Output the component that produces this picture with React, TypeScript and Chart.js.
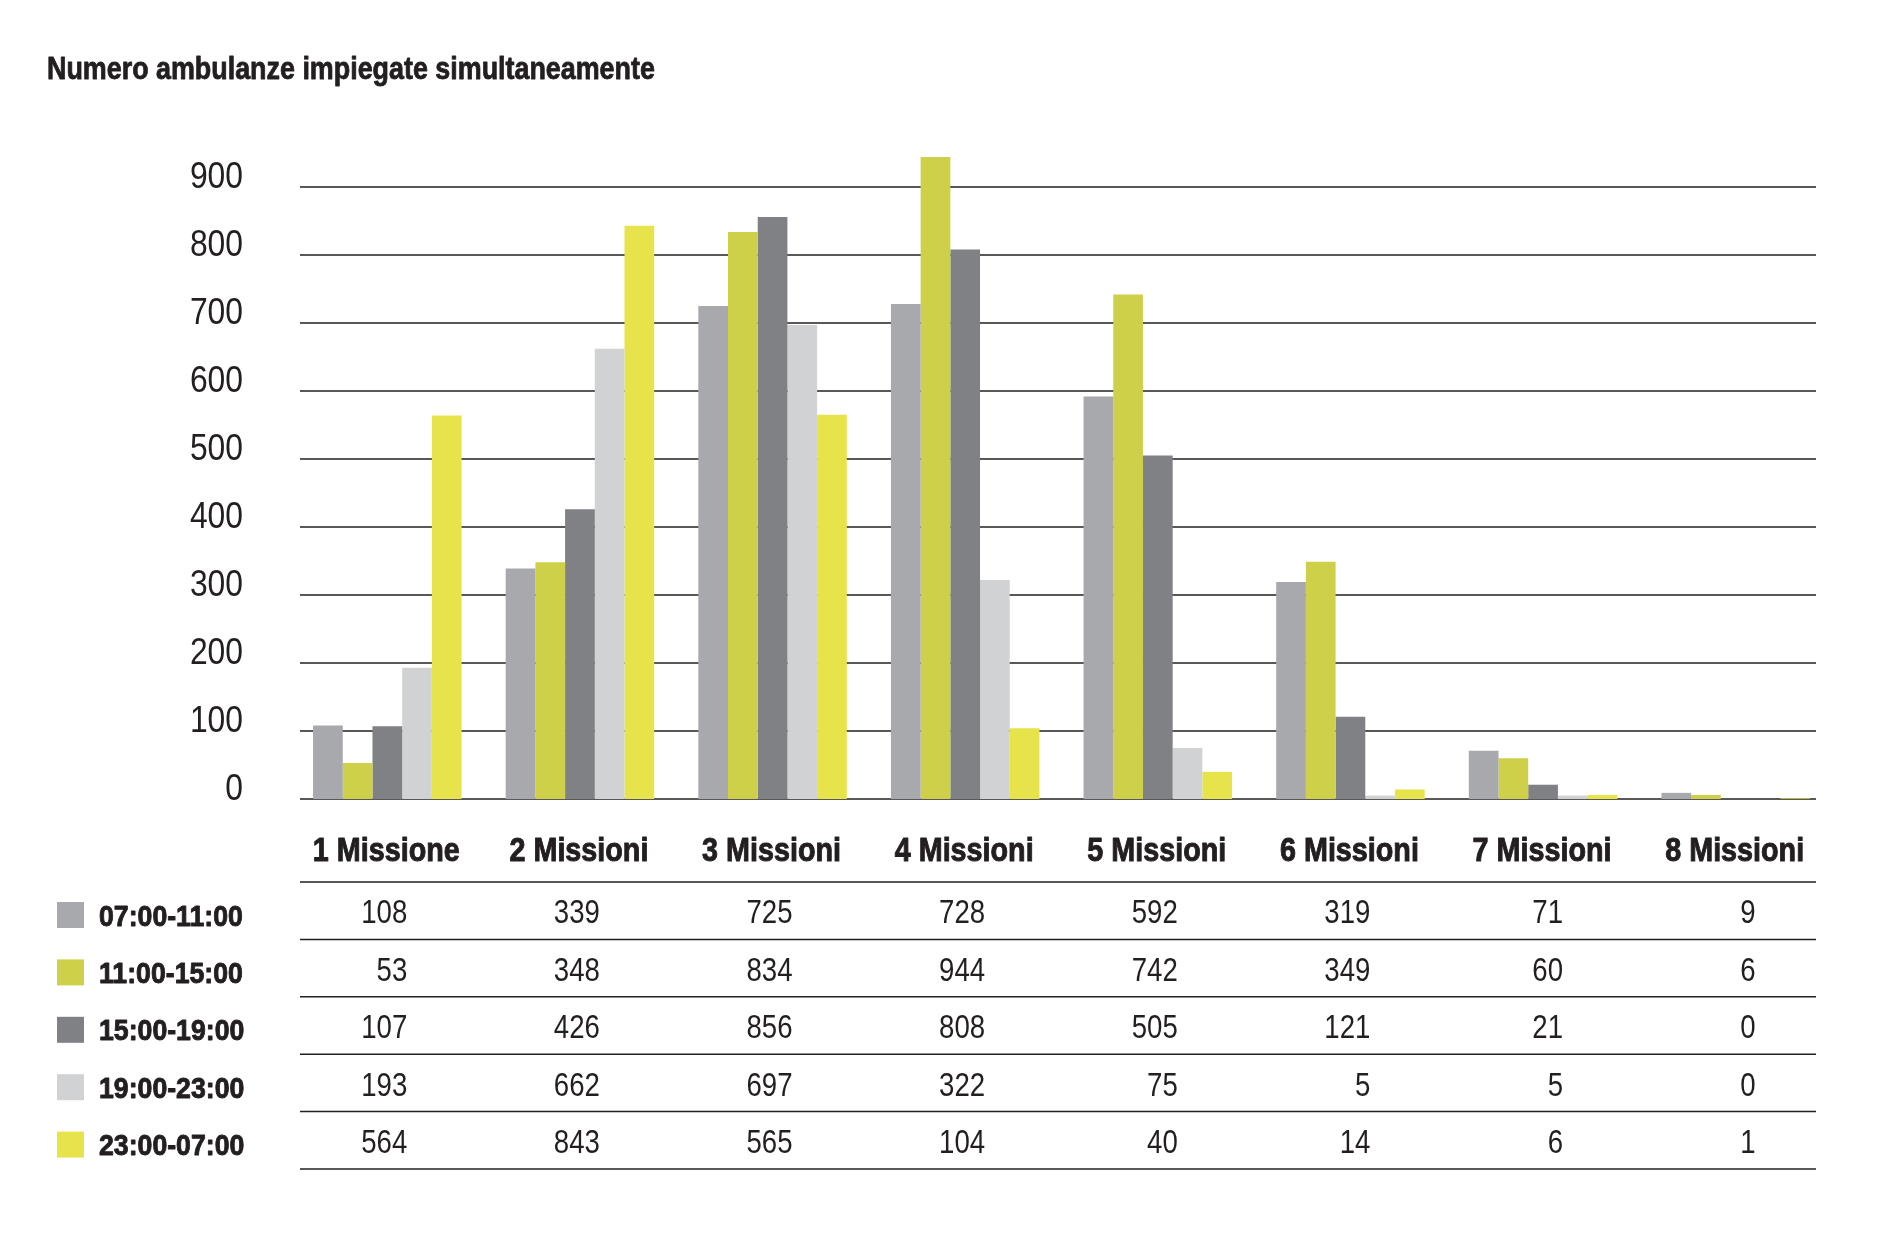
import React, { useEffect, useRef } from 'react';
import { Chart, registerables } from 'chart.js';

Chart.register(...registerables);

const TITLE = 'Numero ambulanze impiegate simultaneamente';
const categories = ['1 Missione', '2 Missioni', '3 Missioni', '4 Missioni', '5 Missioni', '6 Missioni', '7 Missioni', '8 Missioni'];
const seriesLabels = ['07:00-11:00', '11:00-15:00', '15:00-19:00', '19:00-23:00', '23:00-07:00'];
const s0711 = [108, 339, 725, 728, 592, 319, 71, 9];
const s1115 = [53, 348, 834, 944, 742, 349, 60, 6];
const s1519 = [107, 426, 856, 808, 505, 121, 21, 0];
const s1923 = [193, 662, 697, 322, 75, 5, 5, 0];
const s2307 = [564, 843, 565, 104, 40, 14, 6, 1];
const seriesValues = [s0711, s1115, s1519, s1923, s2307];
const seriesColors = ['#a8a9ac', '#cfd04a', '#808184', '#d1d2d4', '#e7e34b'];
const yTickValues = [0, 100, 200, 300, 400, 500, 600, 700, 800, 900];

const INK = '#231f20';
const FF = '"Liberation Sans", Arial, sans-serif';

function condensedText(ctx: CanvasRenderingContext2D, text: string, x: number, y: number, font: string, align: CanvasTextAlign, sx: number, heavy = 0) {
  ctx.save();
  ctx.font = font;
  ctx.textAlign = align;
  ctx.textBaseline = 'alphabetic';
  ctx.fillStyle = INK;
  ctx.strokeStyle = INK;
  ctx.translate(x, y);
  ctx.scale(sx, 1);
  ctx.fillText(text, 0, 0);
  if (heavy > 0) {
    ctx.lineWidth = heavy;
    ctx.lineJoin = 'round';
    ctx.strokeText(text, 0, 0);
  }
  ctx.restore();
}

const decorPlugin = {
  id: 'decor',
  beforeDatasetsDraw(chart: any) {
    const { ctx } = chart;
    const y = chart.scales.y;
    ctx.save();
    ctx.strokeStyle = INK;
    ctx.lineWidth = 1.5;
    yTickValues.forEach((v) => {
      const py = y.getPixelForValue(v);
      ctx.beginPath();
      ctx.moveTo(300, py);
      ctx.lineTo(1816, py);
      ctx.stroke();
    });
    ctx.restore();
  },
  afterDraw(chart: any) {
    const { ctx } = chart;
    const x = chart.scales.x;
    const y = chart.scales.y;

    // title
    condensedText(ctx, TITLE, 47, 79, `bold 31px ${FF}`, 'left', 0.867, 0.8);

    // y tick labels
    yTickValues.forEach((v) => {
      condensedText(ctx, String(v), 243, y.getPixelForValue(v) + 1, `37px ${FF}`, 'right', 0.86);
    });

    // category labels
    categories.forEach((c, j) => {
      condensedText(ctx, c, x.getPixelForValue(j) - 1, 861, `bold 34px ${FF}`, 'center', 0.845, 1);
    });

    // table
    const top = 882;
    const rowH = 57.4;
    ctx.save();
    ctx.strokeStyle = INK;
    ctx.lineWidth = 1.5;
    for (let i = 0; i <= seriesLabels.length; i++) {
      const ly = top + i * rowH;
      ctx.beginPath();
      ctx.moveTo(300, ly);
      ctx.lineTo(1816, ly);
      ctx.stroke();
    }
    ctx.restore();
    seriesLabels.forEach((lab, i) => {
      const rt = top + i * rowH;
      ctx.save();
      ctx.fillStyle = seriesColors[i];
      ctx.fillRect(57, rt + 20, 27, 26);
      ctx.restore();
      condensedText(ctx, lab, 99, rt + 43.5, `bold 29px ${FF}`, 'left', 0.92, 0.9);
      seriesValues[i].forEach((v, j) => {
        condensedText(ctx, String(v), x.getPixelForValue(j) + 20, rt + 41.3, `32.5px ${FF}`, 'right', 0.85);
      });
    });
  },
};

export default function App() {
  const ref = useRef<HTMLCanvasElement | null>(null);
  useEffect(() => {
    if (!ref.current) return;
    const chart = new Chart(ref.current, {
      type: 'bar',
      data: {
        labels: categories,
        datasets: seriesLabels.map((lab, i) => ({
          label: lab,
          data: seriesValues[i],
          backgroundColor: seriesColors[i],
          borderWidth: 0,
          categoryPercentage: 0.771,
          barPercentage: 1,
        })),
      },
      options: {
        responsive: false,
        animation: false,
        devicePixelRatio: 1,
        layout: { padding: { left: 0, top: 119, right: 70, bottom: 334 } },
        plugins: { legend: { display: false }, tooltip: { enabled: false }, title: { display: false } },
        scales: {
          x: {
            grid: { display: false, drawTicks: false },
            border: { display: false },
            afterFit: (s: any) => { s.height = 100; },
            ticks: { display: false },
          },
          y: {
            min: 0,
            max: 1000,
            grid: { display: false, drawTicks: false },
            border: { display: false },
            afterFit: (s: any) => { s.width = 291; },
            ticks: { display: false, stepSize: 100 },
          },
        },
      },
      plugins: [decorPlugin],
    });
    return () => chart.destroy();
  }, []);
  return (
    <div style={{ position: 'absolute', left: 0, top: 0, width: 1902, height: 1233, background: '#fff' }}>
      <canvas ref={ref} width={1902} height={1233} style={{ display: 'block' }} />
    </div>
  );
}
